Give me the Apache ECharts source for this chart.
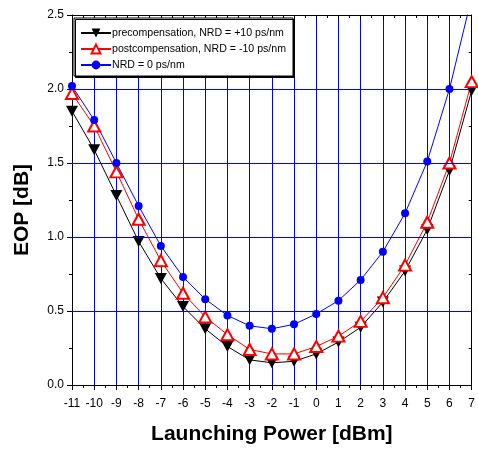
<!DOCTYPE html>
<html>
<head>
<meta charset="utf-8">
<script src="https://cdn.jsdelivr.net/npm/echarts@6/dist/echarts.min.js"></script>
<style>
html,body{margin:0;padding:0;background:#fff;}
#chart{width:478px;height:450px;}
</style>
</head>
<body>
<div id="chart"></div>
<script>
var xValues = [-11,-10,-9,-8,-7,-6,-5,-4,-3,-2,-1,0,1,2,3,4,5,6,7];
var preComp = [1.85,1.59,1.28,0.97,0.72,0.53,0.38,0.26,0.17,0.15,0.16,0.21,0.29,0.39,0.56,0.77,1.05,1.45,1.99];
var postComp = [1.97,1.75,1.44,1.12,0.84,0.62,0.46,0.34,0.24,0.21,0.21,0.26,0.33,0.43,0.59,0.81,1.10,1.50,2.05];
var nrdZero = [2.02,1.79,1.50,1.21,0.94,0.73,0.58,0.47,0.40,0.38,0.41,0.48,0.57,0.71,0.90,1.16,1.51,2.00,2.62];
var seriesNames = ['precompensation, NRD = +10 ps/nm','postcompensation, NRD = -10 ps/nm','NRD = 0 ps/nm'];
var yGridValues = [0.5, 1.0, 1.5, 2.0];

function pairs(v){ return xValues.map(function(x,i){ return [x, v[i]]; }); }

var FONT = 'Liberation Sans, Arial, sans-serif';
function axLine(){ return {show:true, onZero:false, lineStyle:{color:'#000', width:1}}; }
var chart = echarts.init(document.getElementById('chart'), null, {renderer:'canvas'});
chart.setOption({
  animation:false,
  backgroundColor:'#fff',
  grid:{left:72, right:4, top:15, bottom:65, containLabel:false},
  legend:{
    orient:'vertical', left:74, top:18, z:20,
    padding:[9.5,7,5.5,6], itemGap:5, itemWidth:30, itemHeight:11,
    backgroundColor:'#fff', borderColor:'#000', borderWidth:1,
    shadowColor:'#000', shadowBlur:0, shadowOffsetX:1.5, shadowOffsetY:1.5,
    textStyle:{fontFamily:FONT, fontSize:10.6, color:'#000', padding:[0,0,0,-4]},
    data:seriesNames
  },
  graphic:[{
    type:'text', x:22, y:210, rotation:Math.PI/2,
    style:{text:'EOP [dB]', fontFamily:FONT, fontSize:21, fontWeight:'bold', fill:'#000',
      align:'center', verticalAlign:'middle'}
  }],
  xAxis:[{
    type:'value', min:-11, max:7, interval:1, position:'bottom',
    axisLine:axLine(),
    axisTick:{show:true, length:5, inside:false, lineStyle:{color:'#000'}},
    minorTick:{show:true, splitNumber:2, length:3, lineStyle:{color:'#000'}},
    axisLabel:{color:'#000', fontFamily:FONT, fontSize:12, margin:13},
    splitLine:{show:true, lineStyle:{color:'#0000ff', width:1}},
    minorSplitLine:{show:false},
    name:'Launching Power [dBm]', nameLocation:'middle', nameGap:39,
    nameTextStyle:{fontFamily:FONT, fontSize:21, fontWeight:'bold', color:'#000'}
  },{
    type:'value', min:-11, max:7, interval:1, position:'top',
    axisLine:axLine(),
    axisTick:{show:true, length:5, inside:true, lineStyle:{color:'#000'}},
    minorTick:{show:true, splitNumber:2, length:3, lineStyle:{color:'#000'}},
    axisLabel:{show:false},
    splitLine:{show:false},
    minorSplitLine:{show:false}
  }],
  yAxis:[{
    type:'value', min:0, max:2.5, interval:0.5, position:'left',
    axisLine:axLine(),
    axisTick:{show:true, length:5, inside:false, lineStyle:{color:'#000'}},
    minorTick:{show:true, splitNumber:2, length:3, lineStyle:{color:'#000'}},
    axisLabel:{color:'#000', fontFamily:FONT, fontSize:12, margin:8,
      formatter:function(v){ return v.toFixed(1); }},
    splitLine:{show:true, lineStyle:{color:'#0000ff', width:1}},
    minorSplitLine:{show:false}
  },{
    type:'value', min:0, max:2.5, interval:0.5, position:'right',
    axisLine:axLine(),
    axisTick:{show:true, length:5, inside:true, lineStyle:{color:'#000'}},
    minorTick:{show:true, splitNumber:2, length:3, lineStyle:{color:'#000'}},
    axisLabel:{show:false},
    splitLine:{show:false},
    minorSplitLine:{show:false}
  }],
  series:[{
    name:seriesNames[0], type:'line', data:pairs(preComp),
    symbol:'triangle', symbolRotate:180, symbolSize:[12,11],
    lineStyle:{color:'#000', width:1}, itemStyle:{color:'#000'}, clip:true
  },{
    name:seriesNames[1], type:'line', data:pairs(postComp),
    symbol:'emptyTriangle', symbolSize:[12,11],
    lineStyle:{color:'#ff0000', width:1}, itemStyle:{color:'#ff0000', borderWidth:1}, clip:true
  },{
    name:seriesNames[2], type:'line', data:pairs(nrdZero),
    symbol:'circle', symbolSize:8,
    lineStyle:{color:'#0000ff', width:1}, itemStyle:{color:'#0000ff'}, clip:true,
    markLine:{
      silent:true, symbol:['none','none'], z:10, animation:false,
      label:{show:false},
      lineStyle:{color:'#0000ff', width:1, type:'solid', opacity:1},
      emphasis:{disabled:true},
      data:yGridValues.map(function(v){ return {yAxis:v}; })
    }
  }]
});
</script>
</body>
</html>
